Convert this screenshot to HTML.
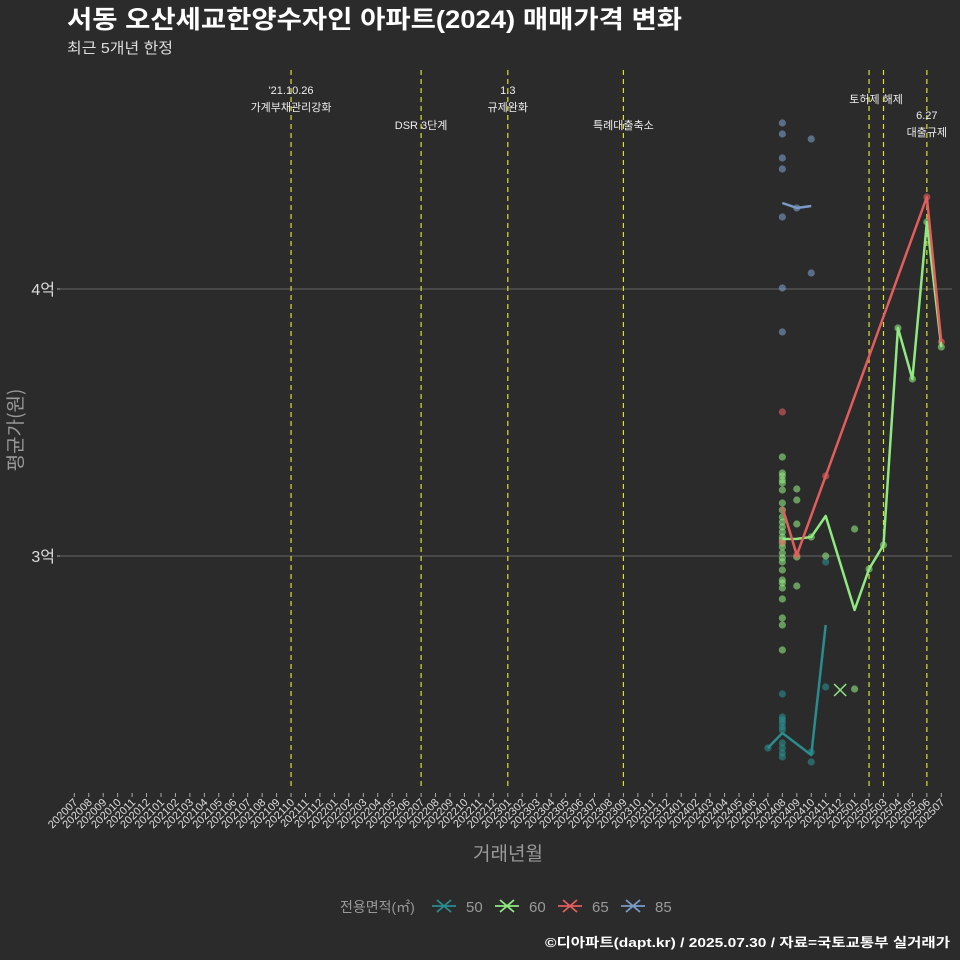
<!DOCTYPE html>
<html><head><meta charset="utf-8"><style>
body{margin:0;background:#2b2b2c;}
svg{display:block;font-family:"Liberation Sans","Noto Sans CJK KR",sans-serif;}
</style></head><body>
<svg id="c" width="960" height="960">
<rect width="960" height="960" fill="#2b2b2c"/>
<text x="67" y="28" fill="#fff" font-size="25" font-weight="bold" textLength="615" lengthAdjust="spacingAndGlyphs">서동 오산세교한양수자인 아파트(2024) 매매가격 변화</text>
<text x="67" y="53" fill="#ddd" font-size="15" textLength="106" lengthAdjust="spacingAndGlyphs">최근 5개년 한정</text>
<g id="grid"></g><g id="events"></g><g id="marks"></g><g id="axes"></g>
<text x="508" y="860" fill="#999" font-size="19" text-anchor="middle">거래년월</text>
<text transform="translate(22,430) rotate(-90)" fill="#999" font-size="19" text-anchor="middle" style="font-family:'Noto Sans CJK KR',sans-serif">평균가(원)</text>
<g id="legend"></g>
<text x="545" y="947" fill="#fff" font-size="13" font-weight="bold" textLength="405" lengthAdjust="spacingAndGlyphs">©디아파트(dapt.kr) / 2025.07.30 / 자료=국토교통부 실거래가</text>
</svg>
<script>
const months=[];for(let y=2020,m=7;months.length<61;){months.push(y+String(m).padStart(2,'0'));m++;if(m>12){m=1;y++;}}
const yTicks=[30000,40000];
const yTickLabels=['3억','4억'];
const seriesNames=['50','60','65','85'];
const seriesColors=['#2a8d8d','#8fe880','#e35d5d','#7b9bc6'];
const line50=[['202407',22809],['202408',23371],['202410',22547],['202411',27416]];
const line60=[['202408',30637],['202409',30640],['202410',30712],['202411',31498],['202501',27978],['202502',29513],['202503',30412],['202504',38539],['202505',36629],['202506',42509],['202507',37828]];
const line65=[['202408',31835],['202409',30037],['202411',32996],['202506',43446],['202507',38015]];
const line85=[['202408',43221],['202409',43034],['202410',43109]];
const pts50=[['202407',22809],['202408',24831],['202408',23970],['202408',23858],['202408',23745],['202408',23596],['202408',23483],['202408',22996],['202408',22809],['202408',22622],['202408',22472],['202410',22659],['202410',22285],['202411',25094],['202411',29775]];
const pts60=[['202408',33708],['202408',33109],['202408',32996],['202408',32846],['202408',32734],['202408',32472],['202408',31985],['202408',31723],['202408',31461],['202408',31273],['202408',31086],['202408',30899],['202408',30712],['202408',30599],['202408',30487],['202408',30337],['202408',30112],['202408',29925],['202408',29775],['202408',29476],['202408',29101],['202408',28989],['202408',28801],['202408',28390],['202408',27678],['202408',27416],['202408',26479],['202409',32509],['202409',32097],['202409',31199],['202409',29963],['202409',28876],['202410',30712],['202411',30000],['202501',31011],['202501',25019],['202502',29513],['202503',30412],['202504',38539],['202505',36629],['202506',42509],['202507',37828]];
const pts65=[['202408',35393],['202408',30524],['202409',30037],['202411',32996],['202506',43446],['202507',38015]];
const pts85=[['202408',46217],['202408',45805],['202408',44906],['202408',44494],['202408',42697],['202408',40037],['202408',38390],['202409',43034],['202410',45618],['202410',40599]];
const highlight=['202412',24981];
const eventMonths=['202110','202207','202301','202309','202502','202503','202506'];
const eventLabels=[["'21.10.26","가계부채관리강화"],["DSR 3단계"],["1.3","규제완화"],["특례대출축소"],["토허제 해제"],[],["6.27","대출규제"]];
const eventLabelY=[90,125,90,125,99,null,115];
const NS='http://www.w3.org/2000/svg';
const X=m=>74.3+months.indexOf(m)*14.45;
const Y=v=>556-(v-30000)/10000*267;
function mk(t,a,p){const e=document.createElementNS(NS,t);for(const k in a)e.setAttribute(k,a[k]);document.getElementById(p).appendChild(e);return e;}
yTicks.forEach((v,i)=>{
 const l=mk('line',{x1:60,x2:952,y1:Y(v),y2:Y(v),stroke:'#666','stroke-width':1},'grid');
 
 
 const t=mk('text',{x:55,y:Y(v)+6,fill:'#ddd','font-size':16,'text-anchor':'end'},'axes');t.textContent=yTickLabels[i];
 
 
 const tk=mk('line',{x1:57,x2:60,y1:Y(v),y2:Y(v),stroke:'#aaa'},'axes');
 
 
});
months.forEach(m=>{
 const x=X(m);
 const tk=mk('line',{x1:x,x2:x,y1:793,y2:797,stroke:'#aaa'},'axes');
 
 
 const t=mk('text',{transform:`translate(${x+4},803) rotate(-45)`,fill:'#ddd','font-size':11,'text-anchor':'end'},'axes');t.textContent=m;
 
 
});
eventMonths.forEach((m,i)=>{
 const x=X(m);
 const l=mk('line',{x1:x,x2:x,y1:70,y2:790,stroke:'#d8e030','stroke-width':1.2,'stroke-dasharray':'5,4'},'events');
 
 
 eventLabels[i].forEach((s,j)=>{
  const t=mk('text',{x:i==4?x+7:x,y:eventLabelY[i]+4+j*17,fill:'#eee','font-size':11,'text-anchor':'middle'},'events');t.textContent=s;
  
  
 });
});
const lines=[line50,line60,line65,line85],pts=[pts50,pts60,pts65,pts85];
pts.forEach((ps,i)=>ps.forEach(p=>{
 const c=mk('circle',{cx:X(p[0]),cy:Y(p[1]),r:3.6,fill:seriesColors[i],'fill-opacity':0.6},'marks');
 
 
}));
lines.forEach((ls,i)=>{
 const p=mk('polyline',{points:ls.map(d=>X(d[0])+','+Y(d[1])).join(' '),fill:'none',stroke:seriesColors[i],'stroke-width':2.5,'stroke-linejoin':'round'},'marks');
 
 
});
{const hx=X(highlight[0]),hy=Y(highlight[1]);
 const g=mk('path',{d:`M${hx-6},${hy-6}L${hx+6},${hy+6}M${hx-6},${hy+6}L${hx+6},${hy-6}`,stroke:'#8fe880','stroke-width':1.5},'marks');
 
 }
{const t=mk('text',{x:340,y:912,fill:'#999','font-size':14},'legend');t.textContent='전용면적(㎡)';
 
 
 seriesNames.forEach((n,i)=>{
  const x0=432+i*63;
  const g=mk('path',{d:`M${x0},906H${x0+24}M${x0+5},900L${x0+19},912M${x0+5},912L${x0+19},900`,stroke:seriesColors[i],'stroke-width':1.8},'legend');
  
  
  const lt=mk('text',{x:x0+34,y:912,fill:'#999','font-size':15},'legend');lt.textContent=n;
  
  
 });}
</script>
</body></html>
